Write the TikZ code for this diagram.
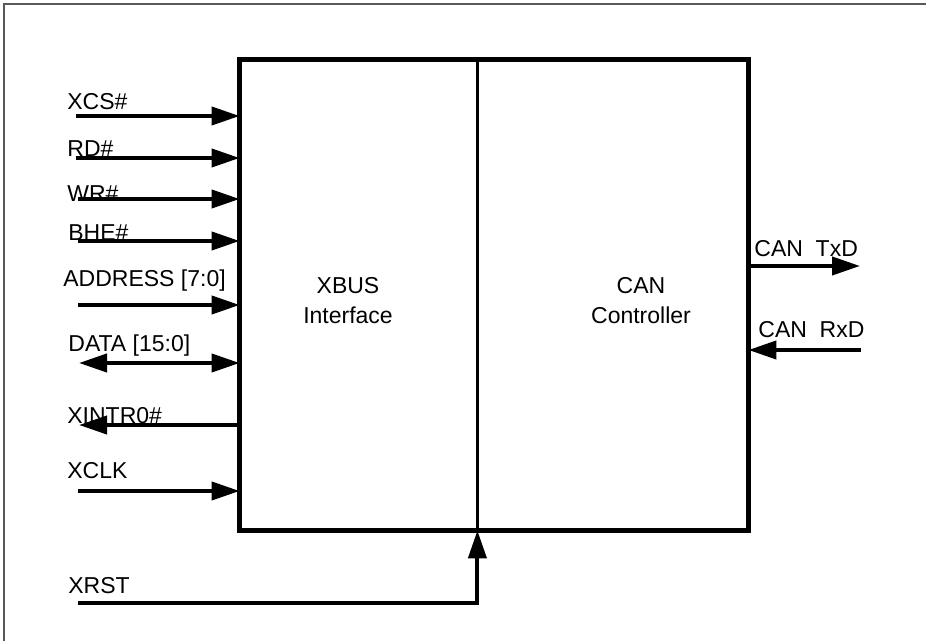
\documentclass[tikz,border=0pt]{standalone}
\usepackage{fontspec}
\setmainfont{Liberation Sans}
\usetikzlibrary{arrows.meta, positioning}

\begin{document}
\begin{tikzpicture}[x=0.5pt, y=-0.5pt,
    sig/.style={line width=2pt, -{Triangle[length=14pt, width=9pt]}},
    bisig/.style={line width=2pt, {Triangle[length=14pt, width=9pt]}-{Triangle[length=14pt, width=9pt]}},
    lbl/.style={anchor=base west, inner sep=0pt, font=\fontsize{11.5}{13}\selectfont},
    blocktxt/.style={align=center, inner sep=0pt, font=\fontsize{11.5}{15}\selectfont},
    half/.style={rectangle, minimum height=235pt, inner sep=0pt}
]
\useasboundingbox (0,0) rectangle (926,641);

% Outer frame (top and left only)
\draw[gray!70!black, line width=0.7pt] (4,641) -- (4,4) -- (926,4);

% The two halves of the block
\node[half, minimum width=118.5pt] (xbus) at (358.5,295) {};
\node[half, minimum width=135.5pt] (can) at (612.5,295) {};
\draw[line width=2.7pt] (xbus.north west) rectangle (can.south east);
\draw[line width=1.5pt] (xbus.north east) -- (xbus.south east);

% Block texts
\node[blocktxt] (xbustxt) at (348,301) {XBUS\\Interface};
\node[blocktxt] (cantxt) at (641,301) {CAN\\Controller};

% Inputs into the XBUS interface
\coordinate (xcs) at (76,116);
\node[lbl] (xcsl) at (67,110) {XCS\#};
\draw[sig] (xcs) -- (xcs -| xbus.west);

\coordinate (rd) at (76,158);
\node[lbl] (rdl) at (67,157) {RD\#};
\draw[sig] (rd) -- (rd -| xbus.west);

\coordinate (wr) at (78,199);
\node[lbl] (wrl) at (67,202) {WR\#};
\draw[sig] (wr) -- (wr -| xbus.west);

\coordinate (bhe) at (78,241);
\node[lbl] (bhel) at (68,241) {BHE\#};
\draw[sig] (bhe) -- (bhe -| xbus.west);

\coordinate (addr) at (78,305);
\node[lbl] (addrl) at (63,287) {ADDRESS [7:0]};
\draw[sig] (addr) -- (addr -| xbus.west);

% Data bus, both ways
\coordinate (data) at (79,363);
\node[lbl] (datal) at (68,352) {DATA [15:0]};
\draw[bisig] (data) -- (data -| xbus.west);

% Interrupt out of the interface
\coordinate (xintr) at (79,425);
\node[lbl] (xintrl) at (67,423) {XINTR0\#};
\draw[sig] (xintr -| xbus.west) -- (xintr);

\coordinate (xclk) at (78,491);
\node[lbl] (xclkl) at (67,479) {XCLK};
\draw[sig] (xclk) -- (xclk -| xbus.west);

% Reset into the bottom of the block
\coordinate (xrst) at (78,603);
\node[lbl] (xrstl) at (68,593) {XRST};
\draw[sig] (xrst) -- (xrst -| xbus.south east) -- (xbus.south east);

% CAN bus lines
\coordinate (txd) at (860,266);
\node[lbl] (txdl) at (754,257) {CAN\ \ TxD};
\draw[sig] (txd -| can.east) -- (txd);

\coordinate (rxd) at (861,350);
\node[lbl] (rxdl) at (758,338) {CAN\ \ RxD};
\draw[sig] (rxd) -- (rxd -| can.east);

\end{tikzpicture}
\end{document}
